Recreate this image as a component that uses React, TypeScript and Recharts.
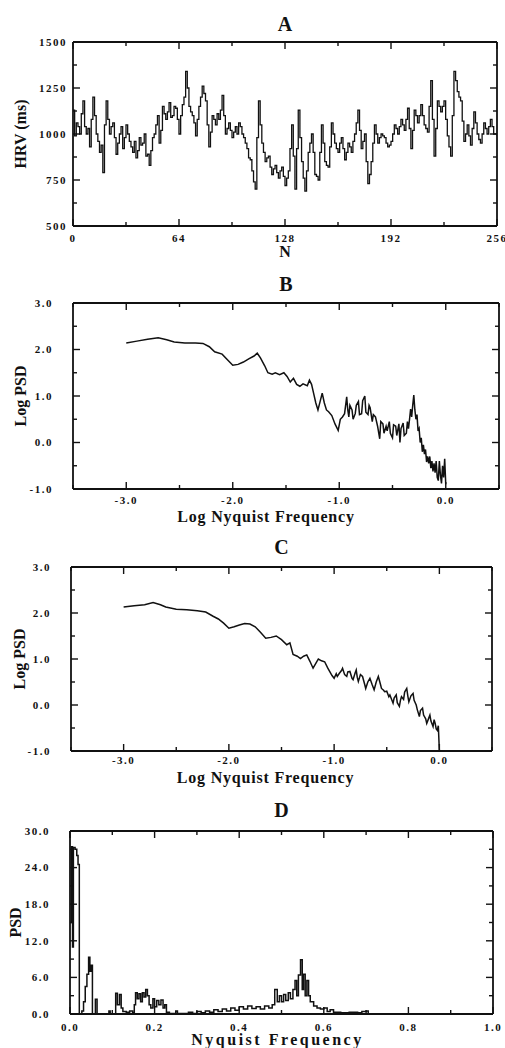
import { Line, LineChart, XAxis, YAxis } from "recharts";

// Panel A: HRV tachogram, one value per beat (N = 0..256)
const hrvStep = 1;
const hrvValues = [
  1130, 990, 1060, 1040, 1000, 1110, 1180, 1040, 1000, 1030, 930, 1080, 1200, 1100, 1000, 960,
  900, 940, 790, 1050, 1180, 1080, 1000, 1040, 1060, 980, 890, 950, 1000, 1040, 920, 980,
  1050, 1000, 960, 930, 900, 960, 870, 910, 980, 940, 950, 1000, 880, 890, 830, 910,
  980, 1000, 1050, 1100, 950, 1020, 1150, 1110, 1080, 1120, 1170, 1090, 1100, 1150, 1140, 1080,
  1000, 1100, 1160, 1200, 1340, 1250, 1150, 1120, 1100, 1060, 990, 1080, 1150, 1200, 1260, 1220,
  1180, 1050, 930, 1010, 1100, 1080, 1050, 1110, 1080, 1130, 1210, 1100, 1000, 1030, 1060, 1020,
  980, 1010, 1040, 1000, 1060, 1040, 1000, 980, 950, 920, 870, 860, 800, 740, 700, 980,
  1180, 1050, 950, 900, 850, 870, 880, 820, 780, 810, 830, 790, 760, 800, 820, 770,
  720, 760, 800, 920, 1050, 880, 700, 920, 1130, 980, 850, 760, 690, 800, 900, 950,
  1000, 900, 780, 770, 750, 900, 1050, 950, 850, 830, 820, 930, 1060, 1000, 950, 920,
  900, 950, 980, 920, 860, 900, 950, 930, 900, 960, 1000, 1060, 1130, 1020, 920, 960,
  1000, 850, 730, 780, 850, 950, 1050, 1000, 950, 980, 1000, 990, 980, 950, 930, 940,
  960, 1000, 1050, 1030, 1000, 1040, 1080, 1050, 1020, 1080, 1140, 1030, 920, 1020, 1130, 1100,
  1060, 1100, 1160, 1100, 1050, 1030, 1010, 1150, 1290, 1080, 880, 1030, 1180, 1150, 1120, 1150,
  1180, 1080, 990, 930, 880, 1100, 1340, 1290, 1230, 1200, 1180, 1070, 960, 1000, 1050, 990,
  940, 1030, 1120, 1060, 1000, 970, 950, 1000, 1060, 1030, 1000, 1040, 1080, 1040, 1000, 1000,
  990,
];

// Panel B: log PSD of raw series
const bLogFreq = [
  -3.0, -2.9, -2.8, -2.7, -2.62, -2.55, -2.45, -2.35, -2.28, -2.22, -2.17, -2.1, -2.05, -2.0, -1.95, -1.9,
  -1.85, -1.8, -1.77, -1.74, -1.7, -1.67, -1.63, -1.6, -1.56, -1.52, -1.49, -1.46, -1.43, -1.4, -1.37, -1.34,
  -1.3, -1.28, -1.26, -1.24, -1.22, -1.2, -1.18, -1.16, -1.14, -1.12, -1.1, -1.07, -1.04, -1.01, -0.99, -0.97,
  -0.95, -0.93, -0.92, -0.91, -0.9, -0.88, -0.87, -0.85, -0.84, -0.82, -0.81, -0.79, -0.78, -0.76, -0.75, -0.73,
  -0.72, -0.71, -0.69, -0.68, -0.66, -0.64, -0.62, -0.61, -0.59, -0.58, -0.56, -0.55, -0.53, -0.52, -0.5, -0.49,
  -0.47, -0.46, -0.44, -0.43, -0.42, -0.4, -0.39, -0.37, -0.36, -0.35, -0.34, -0.33, -0.32, -0.31, -0.3, -0.29,
  -0.28, -0.27, -0.26, -0.25, -0.24, -0.23, -0.22, -0.21, -0.2, -0.19, -0.18, -0.17, -0.16, -0.15, -0.14, -0.13,
  -0.12, -0.11, -0.1, -0.09, -0.08, -0.07, -0.06, -0.05, -0.04, -0.03, -0.02, -0.01, 0.0,
];
const bLogPsd = [
  2.14, 2.18, 2.22, 2.25, 2.21, 2.16, 2.14, 2.14, 2.13, 2.06, 1.95, 1.9, 1.78, 1.66, 1.68, 1.73,
  1.8, 1.86, 1.92, 1.82, 1.65, 1.5, 1.47, 1.5, 1.46, 1.5, 1.42, 1.3, 1.38, 1.25, 1.21, 1.26,
  1.22, 1.34, 1.25, 1.05, 0.85, 0.7, 0.88, 1.06, 0.85, 0.7, 0.66, 0.58, 0.4, 0.26, 0.5, 0.55,
  0.62, 0.98, 0.7, 0.55, 0.8, 0.7, 0.5, 0.62, 0.8, 0.88, 0.6, 0.62, 0.9, 1.0, 0.65, 0.6,
  0.8, 0.75, 0.45, 0.6, 0.55, 0.35, 0.08, 0.45, 0.4, 0.2, 0.35, 0.25, 0.45, 0.2, 0.1, 0.38,
  0.35, 0.15, 0.4, 0.0, 0.3, 0.42, 0.15, 0.2, 0.45, 0.3, 0.5, 0.72, 0.55, 0.8, 1.02, 0.7,
  0.5, 0.6, 0.25, 0.3, 0.0, 0.1, -0.2, -0.05, -0.25, -0.15, -0.42, -0.3, -0.45, -0.3, -0.55, -0.4,
  -0.62, -0.45, -0.65, -0.4, -0.75, -0.82, -0.4, -0.7, -0.88, -0.5, -0.75, -0.35, -0.9,
];

// Panel C: log PSD after filtering
const cLogFreq = [
  -3.0, -2.9, -2.8, -2.72, -2.65, -2.6, -2.5, -2.4, -2.3, -2.22, -2.15, -2.1, -2.05, -2.0, -1.95, -1.9,
  -1.85, -1.8, -1.75, -1.7, -1.65, -1.6, -1.55, -1.5, -1.45, -1.42, -1.39, -1.35, -1.32, -1.29, -1.26, -1.23,
  -1.2, -1.17, -1.15, -1.12, -1.09, -1.06, -1.04, -1.02, -1.0, -0.98, -0.97, -0.95, -0.93, -0.92, -0.9, -0.88,
  -0.87, -0.85, -0.83, -0.82, -0.8, -0.79, -0.78, -0.77, -0.75, -0.73, -0.71, -0.7, -0.68, -0.66, -0.64, -0.62,
  -0.6, -0.58, -0.56, -0.55, -0.53, -0.52, -0.5, -0.48, -0.47, -0.45, -0.44, -0.43, -0.41, -0.4, -0.38, -0.37,
  -0.36, -0.34, -0.33, -0.31, -0.3, -0.29, -0.27, -0.25, -0.24, -0.22, -0.21, -0.19, -0.18, -0.16, -0.15, -0.13,
  -0.12, -0.1, -0.09, -0.08, -0.06, -0.05, -0.04, -0.03, -0.02, -0.01, 0.0,
];
const cLogPsd = [
  2.13, 2.16, 2.18, 2.23, 2.18, 2.13, 2.08, 2.07, 2.05, 2.02, 1.93, 1.87, 1.78, 1.67, 1.7, 1.74,
  1.77, 1.76, 1.7, 1.58, 1.45, 1.47, 1.5, 1.42, 1.31, 1.35, 1.1, 1.06, 1.01, 1.06, 1.09, 0.95,
  0.8, 0.92, 1.0, 0.96, 0.94, 0.8, 0.72, 0.64, 0.58, 0.68, 0.62, 0.69, 0.75, 0.8, 0.66, 0.62,
  0.72, 0.73, 0.58, 0.55, 0.7, 0.76, 0.6, 0.51, 0.66, 0.62, 0.45, 0.36, 0.5, 0.58, 0.45, 0.33,
  0.5, 0.62, 0.45, 0.36, 0.32, 0.29, 0.3, 0.18, 0.22, 0.1, 0.04, 0.15, 0.22, 0.05, -0.03, 0.1,
  0.18, 0.12, 0.28, 0.36, 0.2, 0.07, 0.2, 0.25, 0.1, 0.0, -0.1, -0.25, -0.12, -0.07, -0.22, -0.3,
  -0.4, -0.28, -0.22, -0.35, -0.47, -0.32, -0.4, -0.52, -0.55, -0.45, -1.0,
];

// Panel D: linear PSD
const dFreq = [
  0.0, 0.003, 0.006, 0.008, 0.012, 0.016, 0.019, 0.022, 0.028, 0.032, 0.036, 0.04, 0.044, 0.047, 0.05, 0.053,
  0.06, 0.064, 0.092, 0.095, 0.108, 0.112, 0.117, 0.121, 0.125, 0.133, 0.141, 0.148, 0.152, 0.155, 0.159, 0.163,
  0.167, 0.171, 0.175, 0.179, 0.183, 0.187, 0.191, 0.196, 0.2, 0.205, 0.21, 0.215, 0.22, 0.224, 0.228, 0.235,
  0.25, 0.254, 0.28, 0.29, 0.3, 0.31, 0.32, 0.33, 0.34, 0.35, 0.36, 0.37, 0.38, 0.39, 0.4, 0.41,
  0.42, 0.43, 0.44, 0.45, 0.46, 0.47, 0.478, 0.484, 0.49, 0.495, 0.5, 0.505, 0.51, 0.516, 0.521, 0.527,
  0.532, 0.536, 0.54, 0.545, 0.549, 0.552, 0.556, 0.56, 0.564, 0.568, 0.576, 0.584, 0.592, 0.6, 0.608, 0.615,
  0.623, 0.64, 0.66, 0.68, 0.69, 0.7, 0.705, 1.0,
];
const dPsd = [
  15, 27.4, 11, 27.3, 27, 26, 24.5, 0, 0.5, 2, 4.5, 6.5, 9.3, 7, 8, 0,
  2.4, 0, 0.5, 0, 3.4, 1.5, 3.2, 1, 0.4, 0.3, 0.5, 0.2, 1.5, 3.5, 2.5, 3.3,
  2, 3.5, 2.8, 4, 3, 1.5, 1, 2.5, 1.2, 2.2, 1.5, 2.3, 1, 1.5, 0.3, 0.1,
  0.5, 0.1, 0.3, 0.1, 0.4, 0.2, 0.5, 0.3, 0.7, 0.4, 0.8, 0.5, 1.0, 0.6, 1.2, 0.8,
  1.3, 0.9, 1.2, 0.8, 1.3, 1.0, 1.5, 4.0, 2.0, 3.0, 2.0, 3.2, 2.2, 3.5, 2.5, 4.0,
  5.5, 3.0, 6.4, 8.9, 4.0, 6.5, 3.0, 5.5, 3.0, 2.0, 1.3, 1.0, 0.8, 1.0, 0.4, 0.7,
  0.3, 0.2, 0.3, 0.2, 0.4, 0.5, 0, 0,
];

// axis ticks
const hrvXTicks = [0, 32, 64, 96, 128, 160, 192, 224, 256];
const hrvXMajors = [0, 64, 128, 192, 256];
const hrvYTicks = [500, 625, 750, 875, 1000, 1125, 1250, 1375, 1500];
const hrvYMajors = [500, 750, 1000, 1250, 1500];
const logXTicks = [-3.5, -3.0, -2.5, -2.0, -1.5, -1.0, -0.5, 0.0, 0.5];
const logXMajors = [-3.0, -2.0, -1.0, 0.0];
const logYTicks = [-1.0, -0.5, 0.0, 0.5, 1.0, 1.5, 2.0, 2.5, 3.0];
const logYMajors = [-1.0, 0.0, 1.0, 2.0, 3.0];
const linXTicks = [0, 0.1, 0.2, 0.3, 0.4, 0.5, 0.6, 0.7, 0.8, 0.9, 1.0];
const linXMajors = [0, 0.2, 0.4, 0.6, 0.8, 1.0];
const linYTicks = [0, 3, 6, 9, 12, 15, 18, 21, 24, 27, 30];
const linYMajors = [0, 6, 12, 18, 24, 30];

const hrvData = hrvValues.map((v, i) => ({ x: i * hrvStep, y: v }));
const bData = bLogFreq.map((f, i) => ({ x: f, y: bLogPsd[i] }));
const cData = cLogFreq.map((f, i) => ({ x: f, y: cLogPsd[i] }));
const dData = dFreq.map((f, i) => ({ x: f, y: dPsd[i] }));

const SERIF = "'Liberation Serif', 'DejaVu Serif', serif";
const INK = "#111";

type Side = "bottom" | "top" | "left" | "right";

type TickProps = {
  x?: number;
  y?: number;
  payload?: { value: number };
  side: Side;
  majors: number[];
  format?: (v: number) => string;
  gap?: number;
};

function FrameTick({ x = 0, y = 0, payload, side, majors, format, gap = 10 }: TickProps) {
  const v = payload ? payload.value : 0;
  const major = majors.some((m) => Math.abs(m - v) < 1e-9);
  const len = major ? 7 : 4;
  const txt = {
    fontFamily: SERIF,
    fontWeight: 700,
    fontSize: 11,
    letterSpacing: 1.5,
    fill: INK,
  };
  if (side === "bottom" || side === "top") {
    const dir = side === "bottom" ? -1 : 1;
    return (
      <g>
        <line x1={x} y1={y} x2={x} y2={y + dir * len} stroke={INK} strokeWidth={1.4} />
        {side === "bottom" && major && format ? (
          <text x={x} y={y + gap} dy="0.35em" textAnchor="middle" {...txt}>
            {format(v)}
          </text>
        ) : null}
      </g>
    );
  }
  const dir = side === "left" ? 1 : -1;
  return (
    <g>
      <line x1={x} y1={y} x2={x + dir * len} y2={y} stroke={INK} strokeWidth={1.4} />
      {side === "left" && major && format ? (
        <text x={x - gap} y={y} dy="0.35em" textAnchor="end" {...txt}>
          {format(v)}
        </text>
      ) : null}
    </g>
  );
}

type PanelProps = {
  top: number;
  plotHeight: number;
  plotLeft: number;
  plotRight: number;
  data: { x: number; y: number }[];
  lineType: "linear" | "stepAfter";
  lineWidth: number;
  title: string;
  titleOffset: number;
  xTitle: string;
  xTitleOffset: number;
  xTitleSpacing: number;
  xTitleShift: number;
  yTitle: string;
  yTitleOffset: number;
  xDomain: [number, number];
  xTicks: number[];
  xMajors: number[];
  xFormat: (v: number) => string;
  xGap: number;
  yDomain: [number, number];
  yTicks: number[];
  yMajors: number[];
  yFormat: (v: number) => string;
  yGap: number;
};

function Panel(p: PanelProps) {
  const marginTop = 40;
  const axisH = 40;
  const height = marginTop + p.plotHeight + axisH;
  const labelFont = { fontFamily: SERIF, fontWeight: 700, fill: INK };
  const frameLine = { stroke: INK, strokeWidth: 1.8 };
  return (
    <div style={{ position: "absolute", left: 0, top: p.top - marginTop }}>
      <LineChart
        width={505}
        height={height}
        data={p.data}
        margin={{ top: marginTop - 1, right: 505 - p.plotRight - 1, bottom: 0, left: 0 }}
      >
        <XAxis
          dataKey="x"
          type="number"
          domain={p.xDomain}
          allowDataOverflow
          ticks={p.xTicks}
          interval={0}
          height={axisH}
          tickSize={0}
          tickMargin={0}
          tickLine={false}
          axisLine={frameLine}
          tick={(t: any) => (
            <FrameTick x={t.x} y={t.y} payload={t.payload} side="bottom" majors={p.xMajors} format={p.xFormat} gap={p.xGap} />
          )}
          label={{
            value: p.xTitle,
            position: "insideTop",
            offset: p.xTitleOffset,
            dx: p.xTitleShift,
            fontSize: 16,
            letterSpacing: p.xTitleSpacing,
            ...labelFont,
          }}
        />
        <XAxis
          xAxisId="top"
          orientation="top"
          dataKey="x"
          type="number"
          domain={p.xDomain}
          allowDataOverflow
          ticks={p.xTicks}
          interval={0}
          height={1}
          tickSize={0}
          tickMargin={0}
          tickLine={false}
          axisLine={frameLine}
          tick={(t: any) => <FrameTick x={t.x} y={t.y} payload={t.payload} side="top" majors={p.xMajors} />}
          label={{ value: p.title, position: "top", offset: p.titleOffset, fontSize: 20, ...labelFont }}
        />
        <YAxis
          type="number"
          domain={p.yDomain}
          allowDataOverflow
          ticks={p.yTicks}
          interval={0}
          width={p.plotLeft}
          tickSize={0}
          tickMargin={0}
          tickLine={false}
          axisLine={frameLine}
          tick={(t: any) => (
            <FrameTick x={t.x} y={t.y} payload={t.payload} side="left" majors={p.yMajors} format={p.yFormat} gap={p.yGap} />
          )}
          label={{
            value: p.yTitle,
            angle: -90,
            position: "insideLeft",
            offset: p.yTitleOffset,
            fontSize: 16,
            style: { textAnchor: "middle" },
            ...labelFont,
          }}
        />
        <YAxis
          yAxisId="right"
          orientation="right"
          dataKey="y"
          type="number"
          domain={p.yDomain}
          allowDataOverflow
          ticks={p.yTicks}
          interval={0}
          width={1}
          tickSize={0}
          tickMargin={0}
          tickLine={false}
          axisLine={frameLine}
          tick={(t: any) => <FrameTick x={t.x} y={t.y} payload={t.payload} side="right" majors={p.yMajors} />}
        />
        <Line
          dataKey="y"
          type={p.lineType}
          stroke={INK}
          strokeWidth={p.lineWidth}
          dot={false}
          isAnimationActive={false}
        />
      </LineChart>
    </div>
  );
}

const fmtInt = (v: number) => String(v);
const fmt1 = (v: number) => v.toFixed(1);

export default function App() {
  return (
    <div style={{ position: "absolute", left: 0, top: 0, width: 505, height: 1048, background: "#fff" }}>
      <Panel
        top={42}
        plotHeight={184}
        plotLeft={73}
        plotRight={497}
        data={hrvData}
        lineType="stepAfter"
        lineWidth={1.3}
        title="A"
        titleOffset={10}
        xTitle="N"
        xTitleOffset={20}
        xTitleSpacing={0}
        xTitleShift={0}
        yTitle="HRV (ms)"
        yTitleOffset={20}
        xDomain={[0, 256]}
        xTicks={hrvXTicks}
        xMajors={hrvXMajors}
        xFormat={fmtInt}
        xGap={12}
        yDomain={[500, 1500]}
        yTicks={hrvYTicks}
        yMajors={hrvYMajors}
        yFormat={fmtInt}
        yGap={6}
      />
      <Panel
        top={303}
        plotHeight={186}
        plotLeft={73}
        plotRight={499}
        data={bData}
        lineType="linear"
        lineWidth={1.5}
        title="B"
        titleOffset={11}
        xTitle="Log Nyquist Frequency"
        xTitleOffset={22}
        xTitleSpacing={0.8}
        xTitleShift={-20}
        yTitle="Log PSD"
        yTitleOffset={20}
        xDomain={[-3.5, 0.5]}
        xTicks={logXTicks}
        xMajors={logXMajors}
        xFormat={fmt1}
        xGap={11}
        yDomain={[-1, 3]}
        yTicks={logYTicks}
        yMajors={logYMajors}
        yFormat={fmt1}
        yGap={20}
      />
      <Panel
        top={567}
        plotHeight={184}
        plotLeft={71}
        plotRight={492}
        data={cData}
        lineType="linear"
        lineWidth={1.5}
        title="C"
        titleOffset={12}
        xTitle="Log Nyquist Frequency"
        xTitleOffset={21}
        xTitleSpacing={0.8}
        xTitleShift={-16}
        yTitle="Log PSD"
        yTitleOffset={19}
        xDomain={[-3.5, 0.5]}
        xTicks={logXTicks}
        xMajors={logXMajors}
        xFormat={fmt1}
        xGap={9}
        yDomain={[-1, 3]}
        yTicks={logYTicks}
        yMajors={logYMajors}
        yFormat={fmt1}
        yGap={20}
      />
      <Panel
        top={831}
        plotHeight={183}
        plotLeft={70}
        plotRight={493}
        data={dData}
        lineType="stepAfter"
        lineWidth={1.5}
        title="D"
        titleOffset={13}
        xTitle="Nyquist Frequency"
        xTitleOffset={20}
        xTitleSpacing={2.5}
        xTitleShift={-4}
        yTitle="PSD"
        yTitleOffset={15}
        xDomain={[0, 1]}
        xTicks={linXTicks}
        xMajors={linXMajors}
        xFormat={fmt1}
        xGap={13}
        yDomain={[0, 30]}
        yTicks={linYTicks}
        yMajors={linYMajors}
        yFormat={fmt1}
        yGap={20}
      />
    </div>
  );
}
